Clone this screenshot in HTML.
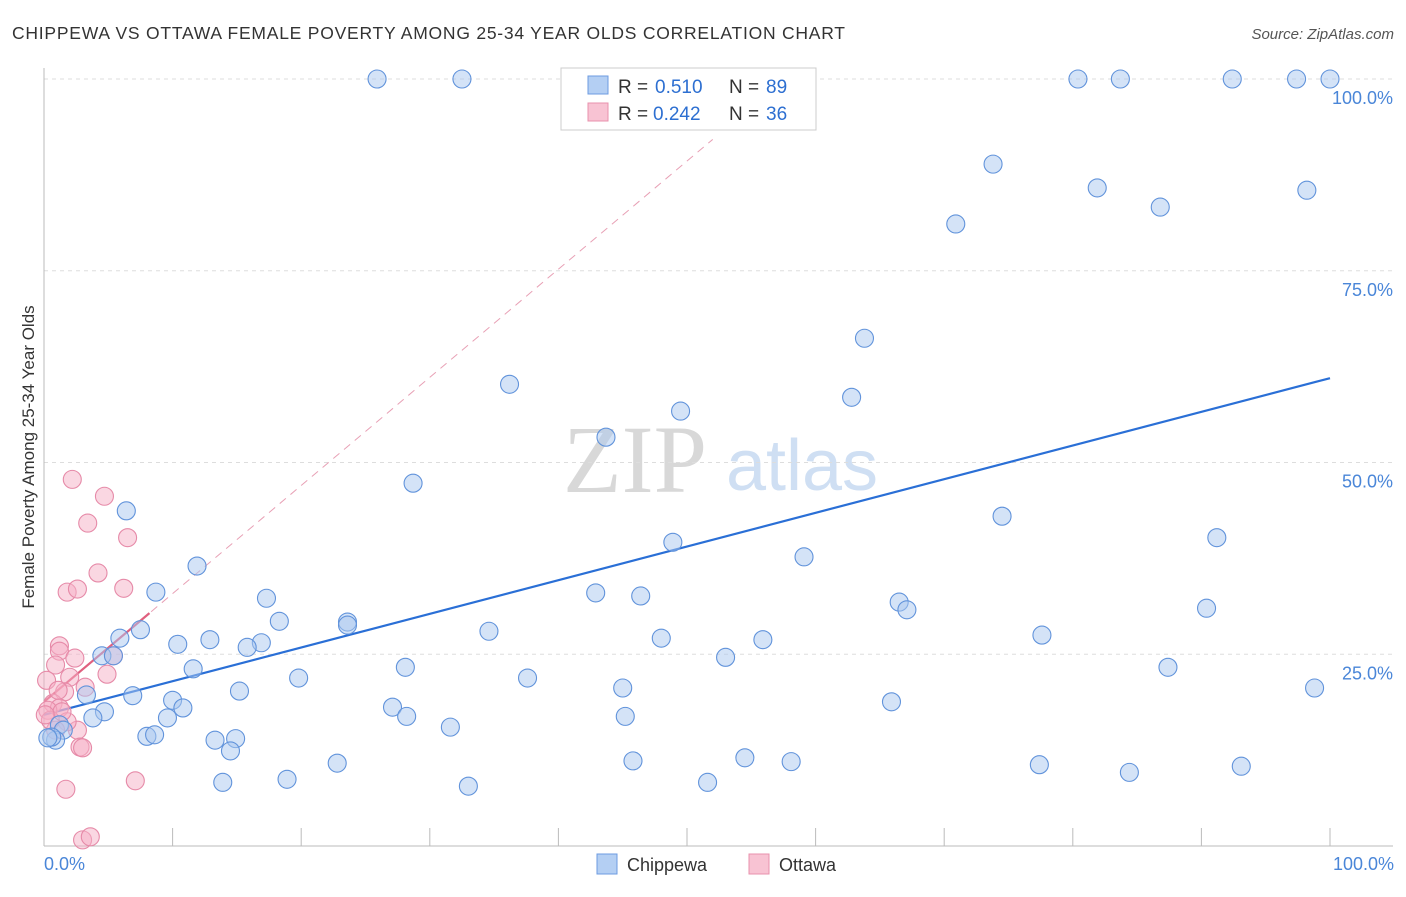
<!DOCTYPE html>
<html><head><meta charset="utf-8"><style>
body{margin:0;background:#fff;font-family:"Liberation Sans",sans-serif;}
svg text{font-family:"Liberation Sans",sans-serif;}
</style></head><body>
<svg id="chart" width="1406" height="892" xmlns="http://www.w3.org/2000/svg">
<text x="12" y="39" font-size="17.5" fill="#333" textLength="833">CHIPPEWA VS OTTAWA FEMALE POVERTY AMONG 25-34 YEAR OLDS CORRELATION CHART</text>
<text x="1394" y="39" font-size="15" fill="#555" text-anchor="end" font-style="italic">Source: ZipAtlas.com</text>
<text transform="translate(34,457) rotate(-90)" font-size="17" fill="#333" text-anchor="middle">Female Poverty Among 25-34 Year Olds</text>
<g>
<text x="635" y="492" font-size="96" fill="#d8d8d8" text-anchor="middle" style="font-family:'Liberation Serif',serif">ZIP</text>
<text x="802" y="490" font-size="72" fill="#cfdff3" text-anchor="middle">atlas</text>
</g>
<g id="grid"></g><g id="axes"></g><g id="lines"></g><g id="pts"></g>
<g>
<rect x="561" y="68" width="255" height="62" fill="#fff" stroke="#ccc"/>
<rect x="588" y="76" width="20" height="18" fill="#b4cff3" stroke="#6d9be0"/>
<rect x="588" y="103" width="20" height="18" fill="#f8c3d3" stroke="#e892ad"/>
<text x="618" y="93" font-size="19" fill="#333">R = </text><text x="655" y="93" font-size="19" fill="#2d6fd1">0.510</text>
<text x="729" y="93" font-size="19" fill="#333">N = </text><text x="766" y="93" font-size="19" fill="#2d6fd1">89</text>
<text x="618" y="120" font-size="19" fill="#333">R = </text><text x="653" y="120" font-size="19" fill="#2d6fd1">0.242</text>
<text x="729" y="120" font-size="19" fill="#333">N = </text><text x="766" y="120" font-size="19" fill="#2d6fd1">36</text>
</g>
<g>
<rect x="597" y="854" width="20" height="20" fill="#b4cff3" stroke="#6d9be0"/>
<text x="627" y="871" font-size="18" fill="#333">Chippewa</text>
<rect x="749" y="854" width="20" height="20" fill="#f8c3d3" stroke="#e892ad"/>
<text x="779" y="871" font-size="18" fill="#333">Ottawa</text>
</g>
<text x="44" y="870" font-size="18" fill="#4a86d8">0.0%</text>
<text x="1394" y="870" font-size="18" fill="#4a86d8" text-anchor="end">100.0%</text>
</svg>
<script>
const yTicks=[25,50,75,100];
const yTickLabels=["25.0%","50.0%","75.0%","100.0%"];
const xTicks=[10,20,30,40,50,60,70,80,90,100];
const chippewaX=[25.9,32.5,80.4,83.7,92.4,97.4,100,73.8,81.9,86.8,98.2,70.9,63.8,62.8,36.2,49.5,43.7,28.7,74.5,6.4,91.2,48.9,59.1,11.9,8.7,42.9,46.4,66.5,67.1,90.4,17.3,18.3,23.6,23.6,34.6,77.6,7.5,5.9,10.4,12.9,16.9,15.8,48.0,55.9,4.5,5.4,53.0,11.6,28.1,87.4,19.8,37.6,15.2,6.9,3.3,10.0,10.8,98.8,65.9,27.1,28.2,4.7,3.8,9.6,45.0,45.2,31.6,1.2,1.5,8.0,8.6,13.3,14.9,14.5,0.9,0.6,22.8,45.8,54.5,58.1,77.4,84.4,93.1,13.9,18.9,33.0,51.6,0.3];
const chippewaY=[100,100,100,100,100,100,100,88.9,85.8,83.3,85.5,81.1,66.2,58.5,60.2,56.7,53.3,47.3,43.0,43.7,40.2,39.6,37.7,36.5,33.1,33.0,32.6,31.8,30.8,31.0,32.3,29.3,29.2,28.8,28.0,27.5,28.2,27.1,26.3,26.9,26.5,25.9,27.1,26.9,24.8,24.8,24.6,23.1,23.3,23.3,21.9,21.9,20.2,19.6,19.7,19.0,18.0,20.6,18.8,18.1,16.9,17.5,16.7,16.7,20.6,16.9,15.5,15.8,15.1,14.3,14.5,13.8,14.0,12.4,13.8,14.2,10.8,11.1,11.5,11.0,10.6,9.6,10.4,8.3,8.7,7.8,8.3,14.1];
const ottawaX=[2.2,4.7,3.4,6.5,4.2,1.8,2.6,6.2,1.2,1.2,2.4,5.4,4.9,0.9,2.0,0.2,3.2,1.6,0.7,1.2,0.3,2.6,1.8,0.9,2.8,3.0,7.1,1.7,3.0,3.6,0.5,1.1,1.4,0.1];
const ottawaY=[47.8,45.6,42.1,40.2,35.6,33.1,33.5,33.6,26.1,25.4,24.5,24.8,22.4,23.6,22.0,21.6,20.7,20.1,18.6,18.0,17.7,15.1,16.2,15.1,12.9,12.8,8.5,7.4,0.8,1.2,16.4,20.3,17.5,17.1];
const blueFit=[17.1,61.0];
const pinkFit=[18.8,1.41];
const NS='http://www.w3.org/2000/svg';
const X0=44,X1=1330,Y0=846,Y100=79;
const sx=v=>X0+(X1-X0)*v/100, sy=v=>Y0-(Y0-Y100)*v/100;
function mk(t,a,p){const e=document.createElementNS(NS,t);for(const k in a)e.setAttribute(k,a[k]);p.appendChild(e);return e;}
const grid=document.getElementById('grid'),axes=document.getElementById('axes'),lines=document.getElementById('lines'),pts=document.getElementById('pts');
yTicks.forEach((t,i)=>{
 const l=mk('line',{x1:44,x2:1393,y1:sy(t),y2:sy(t),stroke:'#ddd','stroke-dasharray':'4,4'},grid);
 
 
 const tx=mk('text',{x:1393,y:sy(t)+25,'font-size':18,fill:'#4a86d8','text-anchor':'end'},grid);
 tx.textContent=yTickLabels[i];
 
 
});
const ax=mk('line',{x1:44,x2:44,y1:68,y2:846,stroke:'#bbb'},axes);


const bx=mk('line',{x1:44,x2:1393,y1:846,y2:846,stroke:'#bbb'},axes);


xTicks.forEach(t=>{
 const l=mk('line',{x1:sx(t),x2:sx(t),y1:828,y2:846,stroke:'#bbb'},axes);
 
 
});
function dot(x,y,fill,stroke,name){
 const c=mk('circle',{cx:sx(x),cy:sy(y),r:9,fill:fill,'fill-opacity':0.5,stroke:stroke,'stroke-width':1.1},pts);
 
 
}
ottawaX.forEach((x,i)=>dot(x,ottawaY[i],'#f5b0c5','#e68aa8','ottawa-point'));
chippewaX.forEach((x,i)=>dot(x,chippewaY[i],'#a9c8f0','#6193db','chippewa-point'));
const bl=mk('line',{x1:sx(0),y1:sy(blueFit[0]),x2:sx(100),y2:sy(blueFit[1]),stroke:'#2a6fd6','stroke-width':2.2},lines);


const pd=mk('line',{x1:sx(0),y1:sy(pinkFit[0]),x2:sx(52),y2:sy(pinkFit[0]+pinkFit[1]*52),stroke:'#e8a0b5','stroke-width':1,'stroke-dasharray':'8,6'},lines);


const ps=mk('line',{x1:sx(0),y1:sy(pinkFit[0]),x2:sx(8.2),y2:sy(pinkFit[0]+pinkFit[1]*8.2),stroke:'#e0607f','stroke-width':2.2},lines);


</script>
</body></html>
